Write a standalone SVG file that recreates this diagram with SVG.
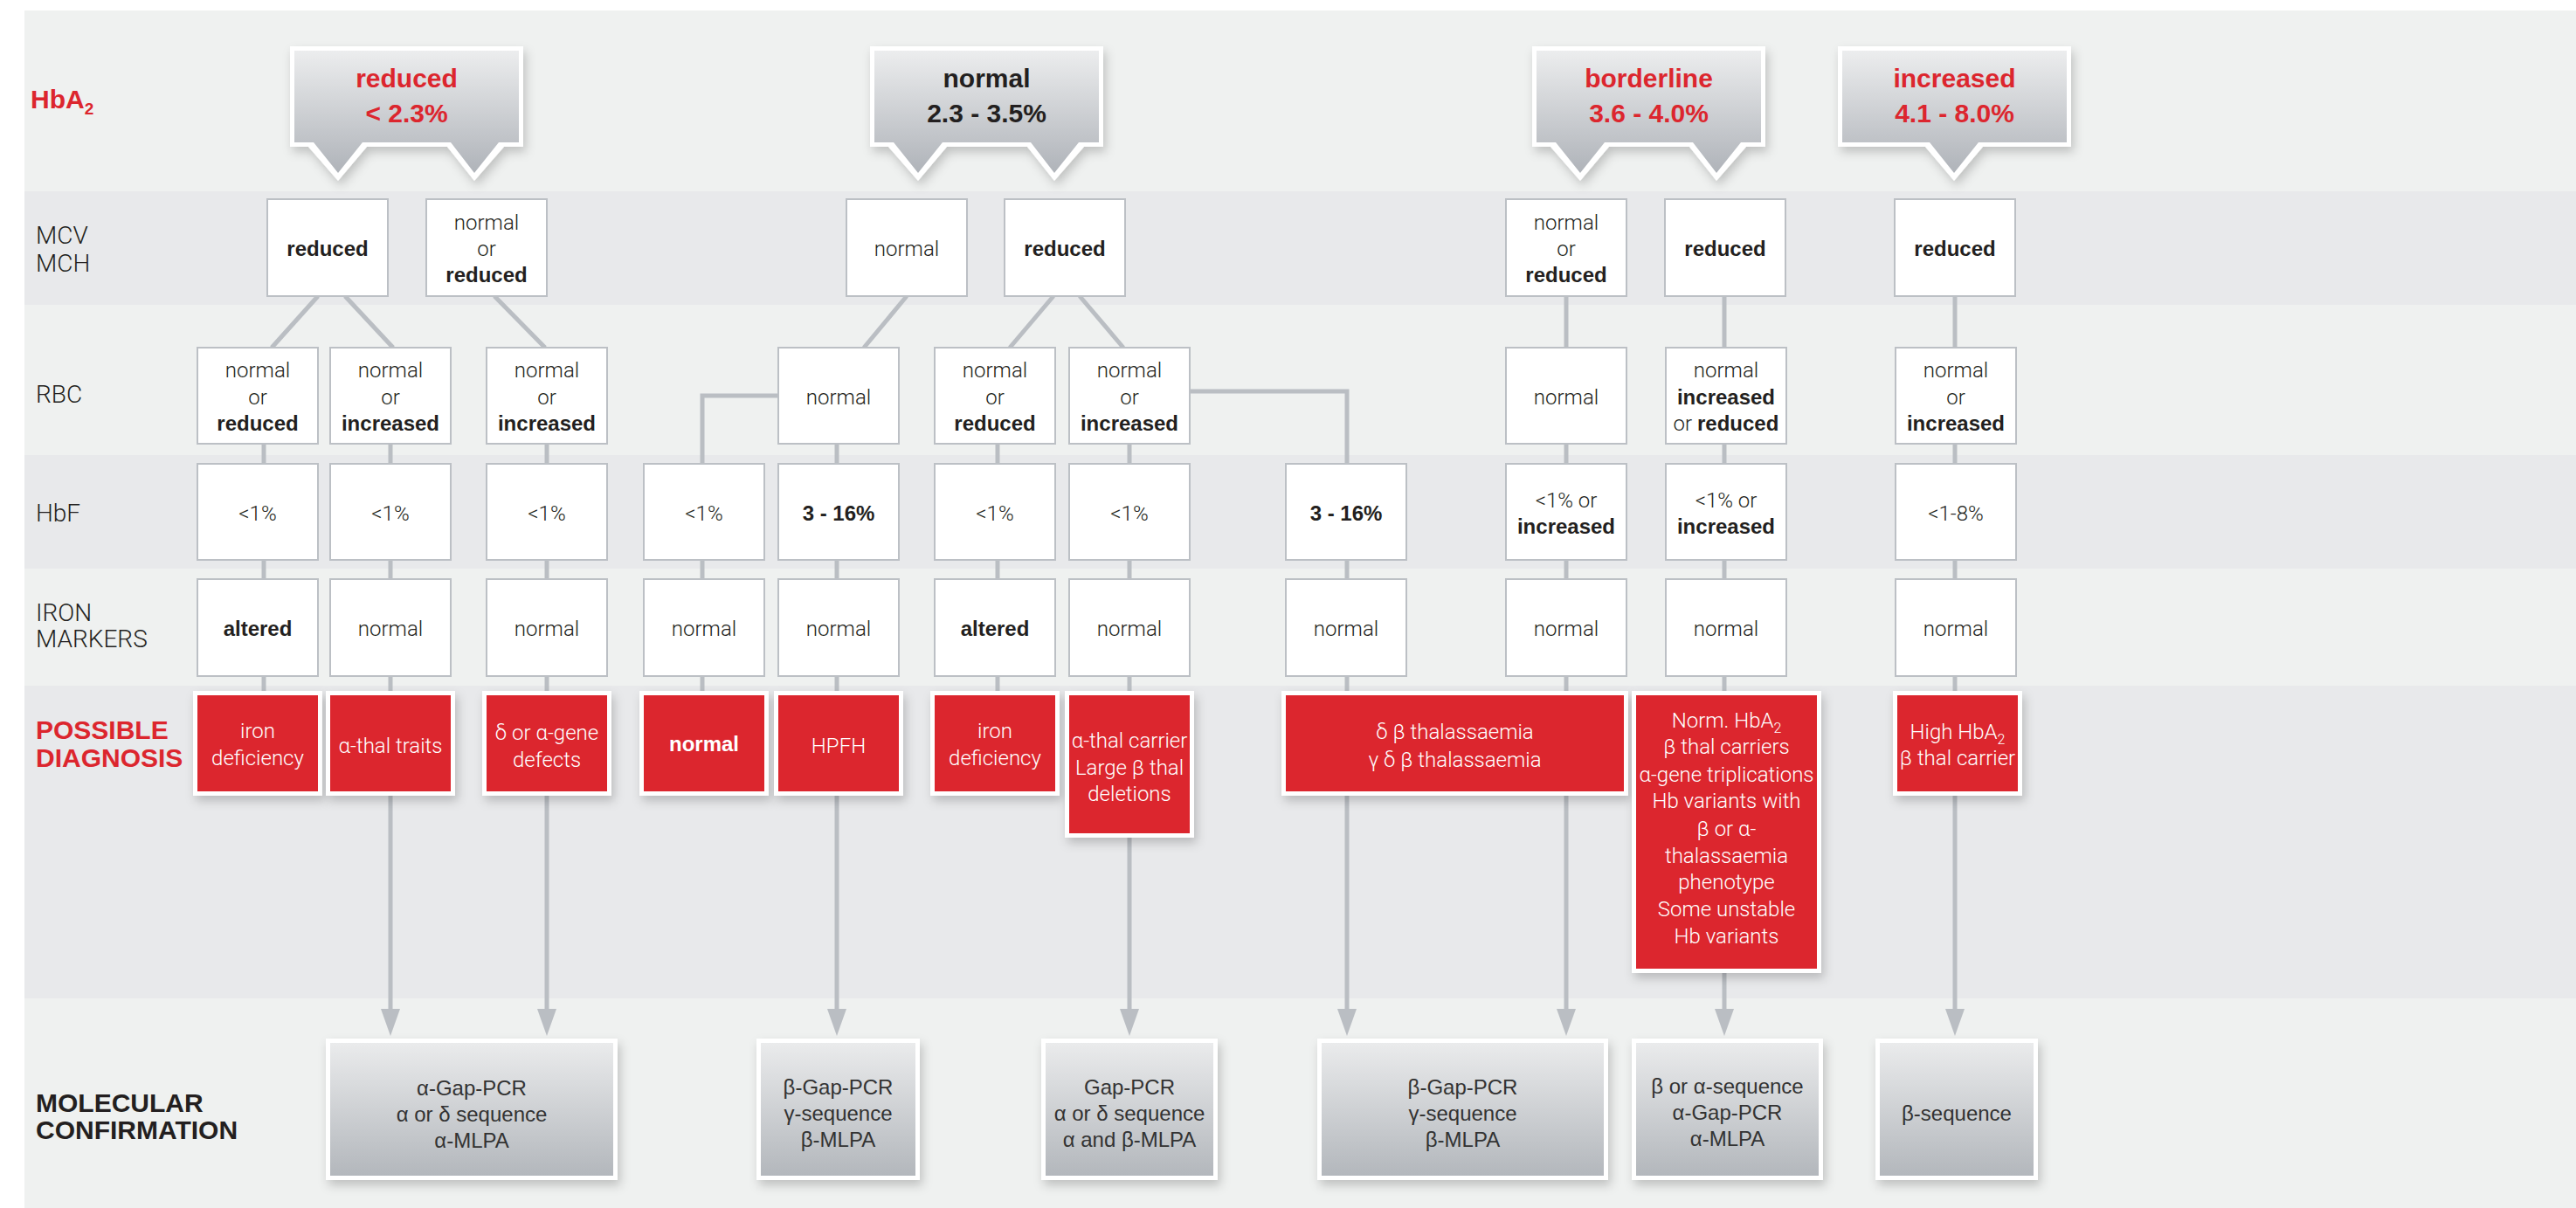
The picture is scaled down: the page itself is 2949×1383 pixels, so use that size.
<svg xmlns="http://www.w3.org/2000/svg" width="2949" height="1383" viewBox="0 0 2949 1383">
<defs>
<style>
.box{fill:#fff;stroke:#bcc0c5;stroke-width:2}
.red{fill:#dc262e}
.frame{fill:#fff}
.lt{font-family:Roboto,"Liberation Sans",Arial,sans-serif;font-weight:300;font-size:24px;fill:#231f20;text-anchor:middle}
.b{font-family:"Liberation Sans",Arial,sans-serif;font-weight:700}
.wt{fill:#fff}
.mol{font-family:"Liberation Sans",Arial,sans-serif;font-size:24px;fill:#333;text-anchor:middle}
.lab{font-family:Roboto,"Liberation Sans",Arial,sans-serif;font-weight:300;font-size:28px;fill:#231f20}
.labb{font-family:"Liberation Sans",Arial,sans-serif;font-weight:700;font-size:30px}
.cot{font-family:"Liberation Sans",Arial,sans-serif;font-weight:700;font-size:30px;text-anchor:middle}
.rd{fill:#dc262e}
.bk{fill:#231f20}
.conn line,.conn polyline{stroke:#babec3;stroke-width:5;fill:none}
.co-out{fill:#fff}
.co-in{fill:url(#gcall)}
.mi{fill:url(#gmol)}
</style>
<linearGradient id="gcall" x1="0" y1="0" x2="0" y2="1">
<stop offset="0" stop-color="#ecedee"/>
<stop offset="1" stop-color="#afb3b9"/>
</linearGradient>
<linearGradient id="gmol" x1="0" y1="0" x2="0" y2="1">
<stop offset="0" stop-color="#eaebec"/>
<stop offset="1" stop-color="#b3b7bc"/>
</linearGradient>
<filter id="sh" x="-20%" y="-20%" width="150%" height="160%">
<feDropShadow dx="3" dy="6" stdDeviation="6" flood-color="#000" flood-opacity="0.2"/>
</filter>
<marker id="ah" markerUnits="userSpaceOnUse" markerWidth="32" markerHeight="24" refX="0" refY="12" orient="auto" viewBox="0 0 32 24">
<path d="M0,1 L31,12 L0,23 Z" fill="#babec3"/>
</marker>
</defs>

<rect width="2949" height="1383" fill="#fff"/>
<rect x="28" y="12" width="2921" height="1371" fill="#eff1f0"/>
<rect x="28" y="219" width="2921" height="130" fill="#e8e9eb"/>
<rect x="28" y="521" width="2921" height="130" fill="#e8e9eb"/>
<rect x="28" y="785" width="2921" height="358" fill="#e8e9eb"/>

<g id="row-labels">
<text class="labb rd" x="35" y="124">HbA<tspan font-size="19" dy="7">2</tspan></text>
<text class="lab" x="41" y="279">MCV</text>
<text class="lab" x="41" y="311">MCH</text>
<text class="lab" x="41" y="461">RBC</text>
<text class="lab" x="41" y="597">HbF</text>
<text class="lab" x="41" y="711">IRON</text>
<text class="lab" x="41" y="741">MARKERS</text>
<text class="labb rd" x="41" y="846">POSSIBLE</text>
<text class="labb rd" x="41" y="878">DIAGNOSIS</text>
<text class="labb bk" x="41" y="1273">MOLECULAR</text>
<text class="labb bk" x="41" y="1304">CONFIRMATION</text>
</g>

<g id="connectors" class="conn">
<line x1="364" y1="339" x2="311" y2="398"/>
<line x1="395" y1="339" x2="450" y2="398"/>
<line x1="566" y1="339" x2="624" y2="398"/>
<line x1="1038" y1="339" x2="989" y2="398"/>
<line x1="1206" y1="339" x2="1156" y2="398"/>
<line x1="1236" y1="339" x2="1286" y2="398"/>
<line x1="1793" y1="339" x2="1793" y2="398"/>
<line x1="1974" y1="339" x2="1974" y2="398"/>
<line x1="2238" y1="339" x2="2238" y2="398"/>
<polyline points="891,453 804,453 804,531"/>
<polyline points="1362,448 1542,448 1542,531"/>
<line x1="302" y1="508" x2="302" y2="531"/>
<line x1="447" y1="508" x2="447" y2="531"/>
<line x1="626" y1="508" x2="626" y2="531"/>
<line x1="958" y1="508" x2="958" y2="531"/>
<line x1="1142" y1="508" x2="1142" y2="531"/>
<line x1="1293" y1="508" x2="1293" y2="531"/>
<line x1="1793" y1="508" x2="1793" y2="531"/>
<line x1="1974" y1="508" x2="1974" y2="531"/>
<line x1="2238" y1="508" x2="2238" y2="531"/>
<line x1="302" y1="641" x2="302" y2="663"/>
<line x1="447" y1="641" x2="447" y2="663"/>
<line x1="626" y1="641" x2="626" y2="663"/>
<line x1="804" y1="641" x2="804" y2="663"/>
<line x1="958" y1="641" x2="958" y2="663"/>
<line x1="1142" y1="641" x2="1142" y2="663"/>
<line x1="1293" y1="641" x2="1293" y2="663"/>
<line x1="1542" y1="641" x2="1542" y2="663"/>
<line x1="1793" y1="641" x2="1793" y2="663"/>
<line x1="1974" y1="641" x2="1974" y2="663"/>
<line x1="2238" y1="641" x2="2238" y2="663"/>
<line x1="302" y1="774" x2="302" y2="796"/>
<line x1="447" y1="774" x2="447" y2="796"/>
<line x1="626" y1="774" x2="626" y2="796"/>
<line x1="804" y1="774" x2="804" y2="796"/>
<line x1="958" y1="774" x2="958" y2="796"/>
<line x1="1142" y1="774" x2="1142" y2="796"/>
<line x1="1293" y1="774" x2="1293" y2="796"/>
<line x1="1542" y1="774" x2="1542" y2="796"/>
<line x1="1793" y1="774" x2="1793" y2="796"/>
<line x1="1974" y1="774" x2="1974" y2="796"/>
<line x1="2238" y1="774" x2="2238" y2="796"/>
<line x1="447" y1="911" x2="447" y2="1155" marker-end="url(#ah)"/>
<line x1="626" y1="911" x2="626" y2="1155" marker-end="url(#ah)"/>
<line x1="958" y1="911" x2="958" y2="1155" marker-end="url(#ah)"/>
<line x1="1293" y1="959" x2="1293" y2="1155" marker-end="url(#ah)"/>
<line x1="1542" y1="911" x2="1542" y2="1155" marker-end="url(#ah)"/>
<line x1="1793" y1="911" x2="1793" y2="1155" marker-end="url(#ah)"/>
<line x1="1974" y1="1114" x2="1974" y2="1155" marker-end="url(#ah)"/>
<line x1="2238" y1="911" x2="2238" y2="1155" marker-end="url(#ah)"/>
</g>

<g id="hba2-reduced" transform="translate(332,0)">
<path class="co-out" filter="url(#sh)" d="M0,53 H267 V168 H245 L211,207 L180,168 H88 L55,207 L21,168 H0 Z"/>
<path class="co-in" d="M5,58 H262 V163 H239 L211,198 L184,163 H83 L55,198 L27,163 H5 Z"/>
<text class="cot rd" x="133.5" y="100">reduced</text>
<text class="cot rd" x="133.5" y="140">&lt; 2.3%</text>
</g>
<g id="hba2-normal" transform="translate(996,0)">
<path class="co-out" filter="url(#sh)" d="M0,53 H267 V168 H245 L211,207 L180,168 H88 L55,207 L21,168 H0 Z"/>
<path class="co-in" d="M5,58 H262 V163 H239 L211,198 L184,163 H83 L55,198 L27,163 H5 Z"/>
<text class="cot bk" x="133.5" y="100">normal</text>
<text class="cot bk" x="133.5" y="140">2.3 - 3.5%</text>
</g>
<g id="hba2-borderline" transform="translate(1754,0)">
<path class="co-out" filter="url(#sh)" d="M0,53 H267 V168 H245 L211,207 L180,168 H88 L55,207 L21,168 H0 Z"/>
<path class="co-in" d="M5,58 H262 V163 H239 L211,198 L184,163 H83 L55,198 L27,163 H5 Z"/>
<text class="cot rd" x="133.5" y="100">borderline</text>
<text class="cot rd" x="133.5" y="140">3.6 - 4.0%</text>
</g>
<g id="hba2-increased" transform="translate(2104,0)">
<path class="co-out" filter="url(#sh)" d="M0,53 H267 V168 H166 L133,207 L100,168 H0 Z"/>
<path class="co-in" d="M5,58 H262 V163 H161 L133,198 L105,163 H5 Z"/>
<text class="cot rd" x="133.5" y="100">increased</text>
<text class="cot rd" x="133.5" y="140">4.1 - 8.0%</text>
</g>

<g id="mcv-1"><rect class="box" x="306" y="228" width="138" height="111"/><text class="lt b" x="375" y="293">reduced</text></g>
<g id="mcv-2"><rect class="box" x="488" y="228" width="138" height="111"/><text class="lt" x="557" y="263">normal</text><text class="lt" x="557" y="293">or</text><text class="lt b" x="557" y="323">reduced</text></g>
<g id="mcv-3"><rect class="box" x="969" y="228" width="138" height="111"/><text class="lt" x="1038" y="293">normal</text></g>
<g id="mcv-4"><rect class="box" x="1150" y="228" width="138" height="111"/><text class="lt b" x="1219" y="293">reduced</text></g>
<g id="mcv-5"><rect class="box" x="1724" y="228" width="138" height="111"/><text class="lt" x="1793" y="263">normal</text><text class="lt" x="1793" y="293">or</text><text class="lt b" x="1793" y="323">reduced</text></g>
<g id="mcv-6"><rect class="box" x="1906" y="228" width="138" height="111"/><text class="lt b" x="1975" y="293">reduced</text></g>
<g id="mcv-7"><rect class="box" x="2169" y="228" width="138" height="111"/><text class="lt b" x="2238" y="293">reduced</text></g>

<g id="rbc-a"><rect class="box" x="226" y="398" width="138" height="110"/><text class="lt" x="295" y="432">normal</text><text class="lt" x="295" y="463">or</text><text class="lt b" x="295" y="493">reduced</text></g>
<g id="rbc-b"><rect class="box" x="378" y="398" width="138" height="110"/><text class="lt" x="447" y="432">normal</text><text class="lt" x="447" y="463">or</text><text class="lt b" x="447" y="493">increased</text></g>
<g id="rbc-c"><rect class="box" x="557" y="398" width="138" height="110"/><text class="lt" x="626" y="432">normal</text><text class="lt" x="626" y="463">or</text><text class="lt b" x="626" y="493">increased</text></g>
<g id="rbc-e"><rect class="box" x="891" y="398" width="138" height="110"/><text class="lt" x="960" y="463">normal</text></g>
<g id="rbc-f"><rect class="box" x="1070" y="398" width="138" height="110"/><text class="lt" x="1139" y="432">normal</text><text class="lt" x="1139" y="463">or</text><text class="lt b" x="1139" y="493">reduced</text></g>
<g id="rbc-g"><rect class="box" x="1224" y="398" width="138" height="110"/><text class="lt" x="1293" y="432">normal</text><text class="lt" x="1293" y="463">or</text><text class="lt b" x="1293" y="493">increased</text></g>
<g id="rbc-i"><rect class="box" x="1724" y="398" width="138" height="110"/><text class="lt" x="1793" y="463">normal</text></g>
<g id="rbc-j"><rect class="box" x="1907" y="398" width="138" height="110"/><text class="lt" x="1976" y="432">normal</text><text class="lt b" x="1976" y="463">increased</text><text class="lt" x="1976" y="493">or <tspan class="b">reduced</tspan></text></g>
<g id="rbc-k"><rect class="box" x="2170" y="398" width="138" height="110"/><text class="lt" x="2239" y="432">normal</text><text class="lt" x="2239" y="463">or</text><text class="lt b" x="2239" y="493">increased</text></g>

<g id="hbf-a"><rect class="box" x="226" y="531" width="138" height="110"/><text class="lt" x="295" y="596">&lt;1%</text></g>
<g id="hbf-b"><rect class="box" x="378" y="531" width="138" height="110"/><text class="lt" x="447" y="596">&lt;1%</text></g>
<g id="hbf-c"><rect class="box" x="557" y="531" width="138" height="110"/><text class="lt" x="626" y="596">&lt;1%</text></g>
<g id="hbf-d"><rect class="box" x="737" y="531" width="138" height="110"/><text class="lt" x="806" y="596">&lt;1%</text></g>
<g id="hbf-e"><rect class="box" x="891" y="531" width="138" height="110"/><text class="lt b" x="960" y="596">3 - 16%</text></g>
<g id="hbf-f"><rect class="box" x="1070" y="531" width="138" height="110"/><text class="lt" x="1139" y="596">&lt;1%</text></g>
<g id="hbf-g"><rect class="box" x="1224" y="531" width="138" height="110"/><text class="lt" x="1293" y="596">&lt;1%</text></g>
<g id="hbf-h"><rect class="box" x="1472" y="531" width="138" height="110"/><text class="lt b" x="1541" y="596">3 - 16%</text></g>
<g id="hbf-i"><rect class="box" x="1724" y="531" width="138" height="110"/><text class="lt" x="1793" y="581">&lt;1% or</text><text class="lt b" x="1793" y="611">increased</text></g>
<g id="hbf-j"><rect class="box" x="1907" y="531" width="138" height="110"/><text class="lt" x="1976" y="581">&lt;1% or</text><text class="lt b" x="1976" y="611">increased</text></g>
<g id="hbf-k"><rect class="box" x="2170" y="531" width="138" height="110"/><text class="lt" x="2239" y="596">&lt;1-8%</text></g>

<g id="iron-a"><rect class="box" x="226" y="663" width="138" height="111"/><text class="lt b" x="295" y="728">altered</text></g>
<g id="iron-b"><rect class="box" x="378" y="663" width="138" height="111"/><text class="lt" x="447" y="728">normal</text></g>
<g id="iron-c"><rect class="box" x="557" y="663" width="138" height="111"/><text class="lt" x="626" y="728">normal</text></g>
<g id="iron-d"><rect class="box" x="737" y="663" width="138" height="111"/><text class="lt" x="806" y="728">normal</text></g>
<g id="iron-e"><rect class="box" x="891" y="663" width="138" height="111"/><text class="lt" x="960" y="728">normal</text></g>
<g id="iron-f"><rect class="box" x="1070" y="663" width="138" height="111"/><text class="lt b" x="1139" y="728">altered</text></g>
<g id="iron-g"><rect class="box" x="1224" y="663" width="138" height="111"/><text class="lt" x="1293" y="728">normal</text></g>
<g id="iron-h"><rect class="box" x="1472" y="663" width="138" height="111"/><text class="lt" x="1541" y="728">normal</text></g>
<g id="iron-i"><rect class="box" x="1724" y="663" width="138" height="111"/><text class="lt" x="1793" y="728">normal</text></g>
<g id="iron-j"><rect class="box" x="1907" y="663" width="138" height="111"/><text class="lt" x="1976" y="728">normal</text></g>
<g id="iron-k"><rect class="box" x="2170" y="663" width="138" height="111"/><text class="lt" x="2239" y="728">normal</text></g>

<g id="dx-a"><rect class="frame" filter="url(#sh)" x="221" y="791" width="148" height="120"/><rect class="red" x="226" y="796" width="138" height="110"/><text class="lt wt" x="295" y="845">iron</text><text class="lt wt" x="295" y="876">deficiency</text></g>
<g id="dx-b"><rect class="frame" filter="url(#sh)" x="373" y="791" width="148" height="120"/><rect class="red" x="378" y="796" width="138" height="110"/><text class="lt wt" x="447" y="862">α-thal traits</text></g>
<g id="dx-c"><rect class="frame" filter="url(#sh)" x="552" y="791" width="148" height="120"/><rect class="red" x="557" y="796" width="138" height="110"/><text class="lt wt" x="626" y="847">δ or α-gene</text><text class="lt wt" x="626" y="878">defects</text></g>
<g id="dx-d"><rect class="frame" filter="url(#sh)" x="732" y="791" width="148" height="120"/><rect class="red" x="737" y="796" width="138" height="110"/><text class="lt wt b" x="806" y="860">normal</text></g>
<g id="dx-e"><rect class="frame" filter="url(#sh)" x="886" y="791" width="148" height="120"/><rect class="red" x="891" y="796" width="138" height="110"/><text class="lt wt" x="960" y="862">HPFH</text></g>
<g id="dx-f"><rect class="frame" filter="url(#sh)" x="1065" y="791" width="148" height="120"/><rect class="red" x="1070" y="796" width="138" height="110"/><text class="lt wt" x="1139" y="845">iron</text><text class="lt wt" x="1139" y="876">deficiency</text></g>
<g id="dx-g"><rect class="frame" filter="url(#sh)" x="1219" y="791" width="148" height="168"/><rect class="red" x="1224" y="796" width="138" height="158"/><text class="lt wt" x="1293" y="856">α-thal carrier</text><text class="lt wt" x="1293" y="887">Large β thal</text><text class="lt wt" x="1293" y="917">deletions</text></g>
<g id="dx-h"><rect class="frame" filter="url(#sh)" x="1467" y="791" width="397" height="120"/><rect class="red" x="1472" y="796" width="387" height="110"/><text class="lt wt" x="1665.5" y="846">δ β thalassaemia</text><text class="lt wt" x="1665.5" y="878">γ δ β thalassaemia</text></g>
<g id="dx-j"><rect class="frame" filter="url(#sh)" x="1868" y="791" width="217" height="323"/><rect class="red" x="1873" y="796" width="207" height="313"/>
<text class="lt wt" x="1976.5" y="833">Norm. HbA<tspan font-size="16" dy="6">2</tspan></text>
<text class="lt wt" x="1976.5" y="863">β thal carriers</text>
<text class="lt wt" x="1976.5" y="895">α-gene triplications</text>
<text class="lt wt" x="1976.5" y="925">Hb variants with</text>
<text class="lt wt" x="1976.5" y="957">β or α-</text>
<text class="lt wt" x="1976.5" y="988">thalassaemia</text>
<text class="lt wt" x="1976.5" y="1018">phenotype</text>
<text class="lt wt" x="1976.5" y="1049">Some unstable</text>
<text class="lt wt" x="1976.5" y="1080">Hb variants</text>
</g>
<g id="dx-k"><rect class="frame" filter="url(#sh)" x="2167" y="791" width="148" height="120"/><rect class="red" x="2172" y="796" width="138" height="110"/><text class="lt wt" x="2241" y="846">High HbA<tspan font-size="16" dy="6">2</tspan></text><text class="lt wt" x="2241" y="876">β thal carrier</text></g>

<g id="mol-1"><rect class="frame" filter="url(#sh)" x="373" y="1189" width="334" height="162"/><rect class="mi" x="378" y="1194" width="324" height="152"/><text class="mol" x="540" y="1254">α-Gap-PCR</text><text class="mol" x="540" y="1284">α or δ sequence</text><text class="mol" x="540" y="1314">α-MLPA</text></g>
<g id="mol-2"><rect class="frame" filter="url(#sh)" x="866" y="1189" width="187" height="162"/><rect class="mi" x="871" y="1194" width="177" height="152"/><text class="mol" x="959.5" y="1253">β-Gap-PCR</text><text class="mol" x="959.5" y="1283">γ-sequence</text><text class="mol" x="959.5" y="1313">β-MLPA</text></g>
<g id="mol-3"><rect class="frame" filter="url(#sh)" x="1192" y="1189" width="202" height="162"/><rect class="mi" x="1197" y="1194" width="192" height="152"/><text class="mol" x="1293" y="1253">Gap-PCR</text><text class="mol" x="1293" y="1283">α or δ sequence</text><text class="mol" x="1293" y="1313">α and β-MLPA</text></g>
<g id="mol-4"><rect class="frame" filter="url(#sh)" x="1508" y="1189" width="333" height="162"/><rect class="mi" x="1513" y="1194" width="323" height="152"/><text class="mol" x="1674.5" y="1253">β-Gap-PCR</text><text class="mol" x="1674.5" y="1283">γ-sequence</text><text class="mol" x="1674.5" y="1313">β-MLPA</text></g>
<g id="mol-5"><rect class="frame" filter="url(#sh)" x="1868" y="1189" width="219" height="162"/><rect class="mi" x="1873" y="1194" width="209" height="152"/><text class="mol" x="1977.5" y="1252">β or α-sequence</text><text class="mol" x="1977.5" y="1282">α-Gap-PCR</text><text class="mol" x="1977.5" y="1312">α-MLPA</text></g>
<g id="mol-6"><rect class="frame" filter="url(#sh)" x="2147" y="1189" width="186" height="162"/><rect class="mi" x="2152" y="1194" width="176" height="152"/><text class="mol" x="2240" y="1283">β-sequence</text></g>
</svg>
